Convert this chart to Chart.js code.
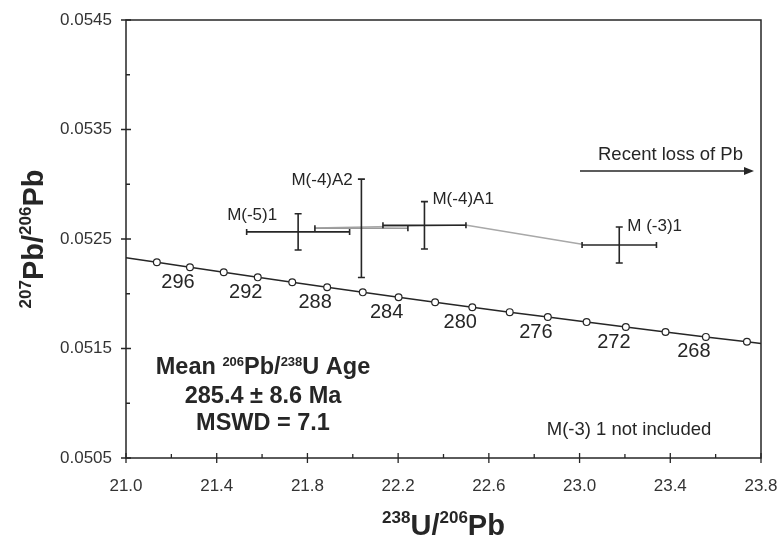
<!DOCTYPE html>
<html>
<head>
<meta charset="utf-8">
<script src="https://cdn.jsdelivr.net/npm/chart.js@4.4.1/dist/chart.umd.min.js"></script>
<style>
  html, body { margin: 0; padding: 0; background: #fff; }
</style>
</head>
<body>
<canvas id="concordiaChart" width="781" height="544"></canvas>
<script>
const FONT = "'Liberation Sans', Arial, Helvetica, sans-serif";
const INK = "#262626";

// Concordia curve: ages (Ma) of the small circles and their ratios
const concordiaAges = [298, 296, 294, 292, 290, 288, 286, 284, 282, 280, 278, 276, 274, 272, 270, 268, 266];
const concordiaX = [21.136, 21.282, 21.431, 21.581, 21.733, 21.887, 22.044, 22.202, 22.363, 22.527, 22.692, 22.860, 23.031, 23.204, 23.379, 23.557, 23.738];
const concordiaY = [0.052287, 0.052242, 0.052196, 0.052150, 0.052105, 0.052059, 0.052013, 0.051968, 0.051923, 0.051877, 0.051832, 0.051787, 0.051741, 0.051696, 0.051651, 0.051606, 0.051561];
// where the concordia line leaves the frame
const concordiaEndX = [21.0, 23.8];
const concordiaEndY = [0.052329, 0.051546];

// Spot analyses with 1 sigma errors
const spotNames = ["M(-5)1", "M(-4)A2", "M(-4)A1", "M (-3)1"];
const spotX = [21.759, 22.038, 22.316, 23.175];
const spotY = [0.052565, 0.052598, 0.052625, 0.052445];
const spotXErr = [0.227, 0.205, 0.183, 0.164];
const spotYErr = [0.000166, 0.000449, 0.000216, 0.000164];

// thin gray trend through the spots
const trendX = [21.832, 22.496, 23.011];
const trendY = [0.052600, 0.052628, 0.052452];

// axis ticks that carry a label
const xMajorTicks = [21.0, 21.4, 21.8, 22.2, 22.6, 23.0, 23.4, 23.8];
const yMajorTicks = [0.0505, 0.0515, 0.0525, 0.0535, 0.0545];

function isMajor(list, v) {
  return list.some(m => Math.abs(m - v) < 1e-7);
}

// draw text made of normal and superscript pieces, centred on x
function richText(ctx, parts, x, y, size, supSize, rise) {
  ctx.save();
  ctx.textBaseline = "alphabetic";
  ctx.textAlign = "left";
  let w = 0;
  parts.forEach(p => {
    ctx.font = "bold " + (p[1] ? supSize : size) + "px " + FONT;
    w += ctx.measureText(p[0]).width;
  });
  let cx = x - w / 2;
  parts.forEach(p => {
    ctx.font = "bold " + (p[1] ? supSize : size) + "px " + FONT;
    ctx.fillText(p[0], cx, p[1] ? y - rise : y);
    cx += ctx.measureText(p[0]).width;
  });
  ctx.restore();
}

const decor = {
  id: "decor",
  beforeDatasetsDraw(chart) {
    const { ctx, chartArea: a, scales } = chart;
    const xs = scales.x, ys = scales.y;
    ctx.save();
    ctx.strokeStyle = INK;
    ctx.lineWidth = 1.5;
    ctx.strokeRect(a.left, a.top, a.right - a.left, a.bottom - a.top);
    ctx.lineWidth = 1.3;
    ctx.beginPath();
    xs.ticks.forEach(t => {
      const px = xs.getPixelForValue(t.value);
      const major = isMajor(xMajorTicks, t.value);
      ctx.moveTo(px, a.bottom + (major ? 5 : 0));
      ctx.lineTo(px, a.bottom - (major ? 5 : 4));
    });
    ys.ticks.forEach(t => {
      const py = ys.getPixelForValue(t.value);
      const major = isMajor(yMajorTicks, t.value);
      ctx.moveTo(a.left - (major ? 5 : 0), py);
      ctx.lineTo(a.left + (major ? 5 : 4), py);
    });
    ctx.stroke();
    ctx.restore();
  },
  afterDatasetsDraw(chart) {
    const { ctx, chartArea: a, scales } = chart;
    const xs = scales.x, ys = scales.y;
    ctx.save();

    // error crosses
    const labelPos = [[-71, -17], [-70, -48], [8, -26], [8, -19]];
    spotX.forEach((sx, i) => {
      const cx = xs.getPixelForValue(sx), cy = ys.getPixelForValue(spotY[i]);
      const x0 = xs.getPixelForValue(sx - spotXErr[i]);
      const x1 = xs.getPixelForValue(sx + spotXErr[i]);
      const y0 = ys.getPixelForValue(spotY[i] + spotYErr[i]);
      const y1 = ys.getPixelForValue(spotY[i] - spotYErr[i]);
      ctx.lineWidth = 1.6;
      ctx.strokeStyle = i === 1 ? "#9a9a9a" : INK;
      ctx.beginPath();
      ctx.moveTo(x0, cy); ctx.lineTo(x1, cy);
      ctx.stroke();
      ctx.strokeStyle = INK;
      ctx.beginPath();
      ctx.moveTo(x0, cy - 3); ctx.lineTo(x0, cy + 3);
      ctx.moveTo(x1, cy - 3); ctx.lineTo(x1, cy + 3);
      ctx.moveTo(cx, y0); ctx.lineTo(cx, y1);
      ctx.moveTo(cx - 3.5, y0); ctx.lineTo(cx + 3.5, y0);
      ctx.moveTo(cx - 3.5, y1); ctx.lineTo(cx + 3.5, y1);
      ctx.stroke();

      ctx.fillStyle = INK;
      ctx.font = "17px " + FONT;
      ctx.textAlign = "left";
      ctx.textBaseline = "middle";
      ctx.fillText(spotNames[i], cx + labelPos[i][0], cy + labelPos[i][1]);
    });

    // age labels along the concordia
    ctx.font = "20px " + FONT;
    ctx.textAlign = "center";
    ctx.textBaseline = "middle";
    concordiaAges.forEach((age, i) => {
      if (age % 4 !== 0) return;
      const px = xs.getPixelForValue(concordiaX[i]);
      const py = ys.getPixelForValue(concordiaY[i]);
      ctx.fillText(String(age), px - 12, py + 15);
    });

    // lead loss arrow
    ctx.font = "18.5px " + FONT;
    ctx.textAlign = "left";
    ctx.fillText("Recent loss of Pb", a.right - 163, a.top + 135);
    const ay = a.top + 151;
    ctx.lineWidth = 1.5;
    ctx.beginPath();
    ctx.moveTo(a.right - 181, ay);
    ctx.lineTo(a.right - 14, ay);
    ctx.stroke();
    ctx.beginPath();
    ctx.moveTo(a.right - 7, ay);
    ctx.lineTo(a.right - 17, ay - 4);
    ctx.lineTo(a.right - 17, ay + 4);
    ctx.closePath();
    ctx.fill();

    // note
    ctx.font = "18.5px " + FONT;
    ctx.textAlign = "center";
    ctx.fillText("M(-3) 1 not included", 629, 430);

    // mean age box
    const bx = 263;
    richText(ctx, [["Mean ", false], ["206", true], ["Pb/", false], ["238", true], ["U Age", false]], bx, 374, 23.5, 13, 8);
    richText(ctx, [["285.4 \u00b1 8.6 Ma", false]], bx, 403, 23.5, 13, 8);
    richText(ctx, [["MSWD = 7.1", false]], bx, 430, 23.5, 13, 8);

    // axis titles
    const midX = (a.left + a.right) / 2;
    richText(ctx, [["238", true], ["U/", false], ["206", true], ["Pb", false]], midX, 535, 29, 17, 12);
    ctx.save();
    ctx.translate(43, (a.top + a.bottom) / 2);
    ctx.rotate(-Math.PI / 2);
    richText(ctx, [["207", true], ["Pb/", false], ["206", true], ["Pb", false]], 0, 0, 29, 17, 12);
    ctx.restore();

    ctx.restore();
  }
};

const concordiaData = [{ x: concordiaEndX[0], y: concordiaEndY[0] }]
  .concat(concordiaX.map((v, i) => ({ x: v, y: concordiaY[i] })))
  .concat([{ x: concordiaEndX[1], y: concordiaEndY[1] }]);
const lastIndex = concordiaData.length - 1;

const ctx = document.getElementById("concordiaChart").getContext("2d");
const concordiaChart = new Chart(ctx, {
  type: "scatter",
  data: {
    datasets: [
      {
        label: "Concordia",
        data: concordiaData,
        showLine: true,
        borderColor: INK,
        borderWidth: 1.5,
        pointRadius: c => (c.dataIndex === 0 || c.dataIndex === lastIndex ? 0 : 3.4),
        pointBackgroundColor: "#fff",
        pointBorderColor: INK,
        pointBorderWidth: 1.2,
      },
      {
        label: "Trend",
        data: trendX.map((v, i) => ({ x: v, y: trendY[i] })),
        showLine: true,
        borderColor: "#a8a8a8",
        borderWidth: 1.4,
        pointRadius: 0,
      },
    ],
  },
  options: {
    responsive: false,
    animation: false,
    layout: { padding: { top: 20, right: 20, left: 0, bottom: 0 } },
    plugins: {
      legend: { display: false },
      tooltip: { enabled: false },
    },
    scales: {
      x: {
        type: "linear",
        position: "bottom",
        min: 21.0,
        max: 23.8,
        grid: { display: false, drawTicks: false },
        border: { display: false },
        ticks: {
          stepSize: 0.2,
          autoSkip: false,
          maxRotation: 0,
          padding: 18,
          color: "#333",
          font: { family: FONT, size: 17 },
          callback: v => (isMajor(xMajorTicks, v) ? v.toFixed(1) : ""),
        },
        afterFit: s => { s.height = 86; s.paddingLeft = 0; s.paddingRight = 0; },
      },
      y: {
        type: "linear",
        min: 0.0505,
        max: 0.0545,
        grid: { display: false, drawTicks: false },
        border: { display: false },
        ticks: {
          stepSize: 0.0005,
          autoSkip: false,
          padding: 14,
          color: "#333",
          font: { family: FONT, size: 17 },
          callback: v => (isMajor(yMajorTicks, v) ? v.toFixed(4) : ""),
        },
        afterFit: s => { s.width = 126; s.paddingTop = 0; s.paddingBottom = 0; },
      },
    },
  },
  plugins: [decor],
});
</script>
</body>
</html>
